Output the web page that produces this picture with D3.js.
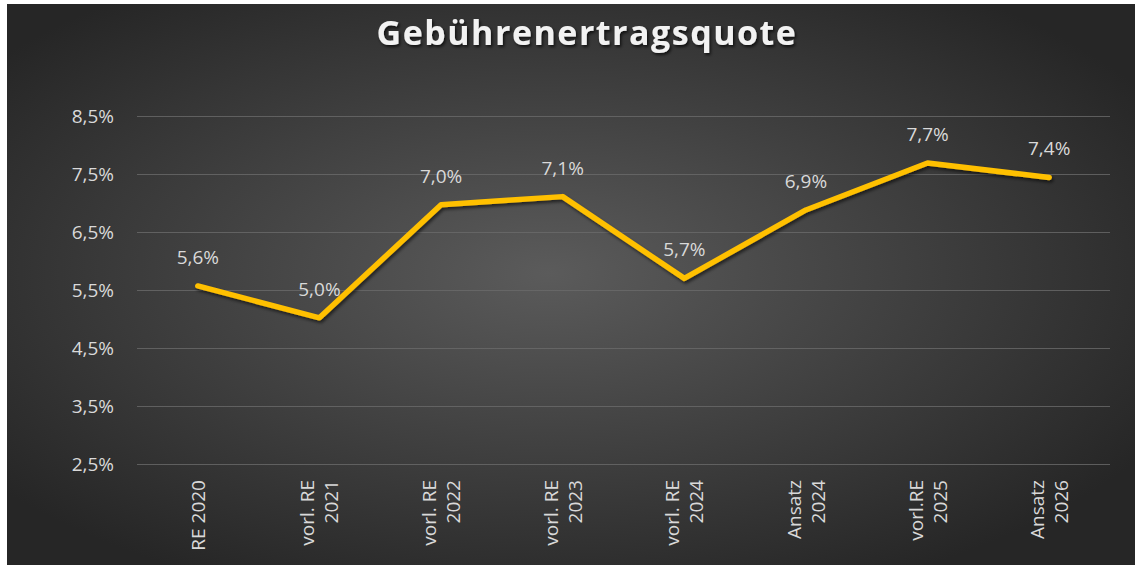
<!DOCTYPE html>
<html>
<head>
<meta charset="utf-8">
<script src="https://cdn.jsdelivr.net/npm/d3@7"></script>
<style>
  body { margin: 0; background: #fff; }
  svg { display: block; }
</style>
</head>
<body>
<div id="chart"></div>
<script>
const categories = ['RE 2020', 'vorl. RE|2021', 'vorl. RE|2022', 'vorl. RE|2023', 'vorl. RE|2024', 'Ansatz|2024', 'vorl.RE|2025', 'Ansatz|2026']
const values = [5.57, 5.02, 6.97, 7.11, 5.70, 6.88, 7.69, 7.44]
const yTicks = [2.5, 3.5, 4.5, 5.5, 6.5, 7.5, 8.5]
const title = 'Gebührenertragsquote'

const W = 1135, H = 565
const fmt = d => d.toFixed(1).replace('.', ',') + '%'

const svg = d3.select('#chart').append('svg')
  .attr('width', W)
  .attr('height', H)

const defs = svg.append('defs')
const grad = defs.append('radialGradient')
  .attr('id', 'bg')
  .attr('cx', '48%').attr('cy', '48%').attr('r', '62%')
grad.append('stop').attr('offset', '0%').attr('stop-color', '#5b5b5b')
grad.append('stop').attr('offset', '100%').attr('stop-color', '#262626')

defs.append('filter').attr('id', 'shadow')
    .attr('x', '-10%').attr('y', '-20%').attr('width', '120%').attr('height', '150%')
  .append('feDropShadow')
    .attr('dx', 1.5).attr('dy', 2.5).attr('stdDeviation', 1.5)
    .attr('flood-color', '#000').attr('flood-opacity', 0.55)

defs.append('filter').attr('id', 'tshadow')
    .attr('x', '-5%').attr('y', '-30%').attr('width', '110%').attr('height', '160%')
  .append('feDropShadow')
    .attr('dx', 1.5).attr('dy', 2).attr('stdDeviation', 1.5)
    .attr('flood-color', '#000').attr('flood-opacity', 0.7)

svg.append('rect')
  .attr('x', 7).attr('y', 4)
  .attr('width', W - 7).attr('height', H - 4)
  .style('fill', 'url(#bg)')

svg.append('text')
  .attr('x', 587)
  .attr('y', 45)
  .attr('text-anchor', 'middle')
  .attr('filter', 'url(#tshadow)')
  .style('font-family', '"Open Sans", sans-serif')
  .style('font-weight', 'bold')
  .style('font-size', '34px')
  .style('letter-spacing', '1.5px')
  .style('fill', '#f2f2f2')
  .text(title)

const x = d3.scaleBand().domain(categories).range([137, 1110])
const y = d3.scaleLinear().domain([2.5, 8.5]).range([464, 116])
const cx = c => x(c) + x.bandwidth() / 2

// gridlines + y labels
const yAxis = svg.append('g')
  .attr('transform', 'translate(137,0)')
  .call(d3.axisLeft(y).tickValues(yTicks).tickFormat(fmt).tickSize(-(1110 - 137)).tickPadding(23))
yAxis.select('.domain').remove()
yAxis.selectAll('line').style('stroke', '#6a6a6a').style('stroke-width', 1).style('opacity', 0.8)
yAxis.selectAll('text')
  .style('font-family', '"Open Sans", sans-serif')
  .style('font-size', '19px')
  .style('fill', '#d9d9d9')

// x labels
const xAxis = svg.append('g')
  .attr('transform', 'translate(0,464)')
  .call(d3.axisBottom(x).tickSize(0))
xAxis.select('.domain').remove()
xAxis.selectAll('text').remove()
xAxis.selectAll('.tick').each(function(d) {
  const lines = d.split('|')
  const t = d3.select(this).append('text')
    .attr('transform', 'rotate(-90)')
    .attr('text-anchor', 'end')
    .style('font-family', '"Open Sans", sans-serif')
    .style('font-size', '19px')
    .style('fill', '#d9d9d9')
  lines.forEach((l, i) => {
    t.append('tspan')
      .attr('x', -16)
      .attr('y', 7 + (i - (lines.length - 1) / 2) * 24)
      .text(l)
  })
})

// the line
const line = d3.line()
  .x((d, i) => cx(categories[i]))
  .y(d => y(d))

svg.append('path')
  .datum(values)
  .attr('d', line)
  .attr('filter', 'url(#shadow)')
  .style('fill', 'none')
  .style('stroke', '#ffc000')
  .style('stroke-width', 5.5)
  .style('stroke-linecap', 'round')
  .style('stroke-linejoin', 'round')

svg.append('g').selectAll('text')
  .data(values)
  .join('text')
    .attr('x', (d, i) => cx(categories[i]))
    .attr('y', d => y(d) - 22)
    .attr('text-anchor', 'middle')
    .style('font-family', '"Open Sans", sans-serif')
    .style('font-size', '19px')
    .style('fill', '#d9d9d9')
    .text(fmt)
</script>
</body>
</html>
